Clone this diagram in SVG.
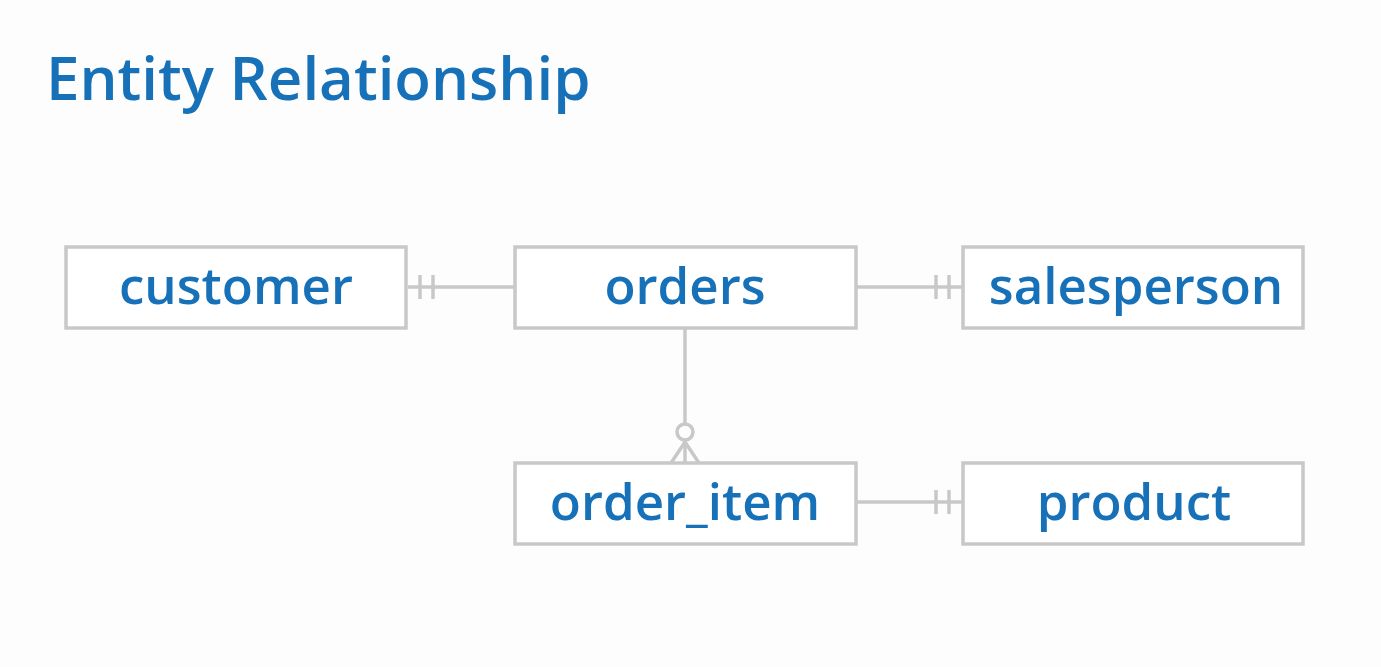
<svg xmlns="http://www.w3.org/2000/svg" width="1381" height="667" viewBox="0 0 1381 667">
<style>
.box{fill:#ffffff;stroke:#c8c8c8;stroke-width:3.5}
.lbl{font-family:"Open Sans",Lato,"Liberation Sans",sans-serif;font-weight:600;font-size:51px;fill:#1771b8;text-anchor:middle}
.ttl{font-family:"Open Sans",Lato,"Liberation Sans",sans-serif;font-weight:600;font-size:60px;fill:#1771b8}
.cn{stroke:#c8c8c8;stroke-width:3.5;fill:none}
</style>
<rect x="0" y="0" width="1381" height="667" fill="#fdfdfd"/>
<text class="ttl" x="46" y="100">Entity Relationship</text>
<g id="connectors">
  <line class="cn" x1="408" y1="287" x2="515" y2="287"/>
  <line class="cn" x1="420" y1="275" x2="420" y2="299"/>
  <line class="cn" x1="433" y1="275" x2="433" y2="299"/>
  <line class="cn" x1="856" y1="287" x2="963" y2="287"/>
  <line class="cn" x1="936" y1="275" x2="936" y2="299"/>
  <line class="cn" x1="949" y1="275" x2="949" y2="299"/>
  <line class="cn" x1="856" y1="502" x2="963" y2="502"/>
  <line class="cn" x1="936" y1="490" x2="936" y2="514"/>
  <line class="cn" x1="949" y1="490" x2="949" y2="514"/>
  <line class="cn" x1="685" y1="328" x2="685" y2="424"/>
  <circle class="cn" cx="685" cy="432" r="8"/>
  <line class="cn" x1="685" y1="440" x2="685" y2="463"/>
  <line class="cn" x1="685" y1="442" x2="671" y2="463"/>
  <line class="cn" x1="685" y1="442" x2="699" y2="463"/>
</g>
<g id="customer"><rect class="box" x="66" y="247" width="340" height="81"/><text class="lbl" x="236" y="304">customer</text></g>
<g id="orders"><rect class="box" x="515" y="247" width="341" height="81"/><text class="lbl" x="685" y="304">orders</text></g>
<g id="salesperson"><rect class="box" x="963" y="247" width="340" height="81"/><text class="lbl" x="1136" y="304">salesperson</text></g>
<g id="order_item"><rect class="box" x="515" y="463" width="341" height="81"/><text class="lbl" x="685" y="520">order_item</text></g>
<g id="product"><rect class="box" x="963" y="463" width="340" height="81"/><text class="lbl" x="1134" y="520">product</text></g>
</svg>
